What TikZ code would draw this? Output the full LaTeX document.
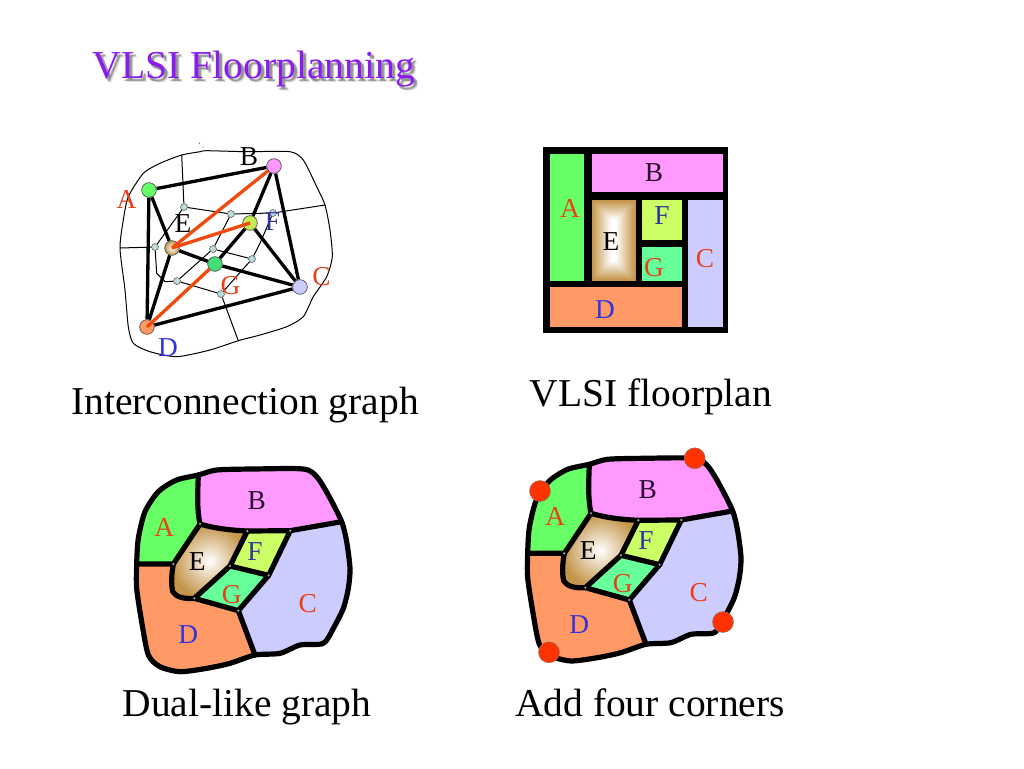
\documentclass[tikz,border=0pt]{standalone}
\usepackage{fontspec}
\setmainfont{Liberation Serif}
\pgfdeclarelayer{bgpage}
\pgfdeclarelayer{edges}
\pgfsetlayers{bgpage,edges,main}
\definecolor{cA}{HTML}{66FF66}
\definecolor{cB}{HTML}{FF99FF}
\definecolor{cC}{HTML}{CCCCFF}
\definecolor{cD}{HTML}{FF9966}
\definecolor{cE}{HTML}{C4954A}
\definecolor{cF}{HTML}{CCFF66}
\definecolor{cG}{HTML}{66FF99}
\definecolor{vG}{HTML}{44DD77}
\definecolor{tRed}{HTML}{E8401A}
\definecolor{tBlue}{HTML}{3333DD}
\definecolor{tNavy}{HTML}{333399}
\definecolor{tPlum}{HTML}{2A0A2A}
\definecolor{edgeRed}{HTML}{F04A10}
\definecolor{dualDot}{HTML}{BBDDDD}
\definecolor{titleCol}{HTML}{8A1CF0}
\definecolor{cornerCol}{HTML}{FF3300}
\tikzset{
  lab/.style={inner sep=0pt,font=\fontsize{20.5}{20.5}\selectfont},
  captxt/.style={inner sep=0pt,anchor=base,font=\fontsize{29.6}{30}\selectfont},
  ttl/.style={inner sep=0pt,anchor=base,font=\fontsize{29.7}{30}\selectfont},
  vert/.style={circle,draw=black!70,line width=.5pt,minimum size=11pt,inner sep=0pt},
  dualv/.style={circle,draw=black!70,fill=dualDot,line width=.4pt,minimum size=5.2pt,inner sep=0pt},
  thickedge/.style={line width=2.5pt,black},
  rededge/.style={line width=2.5pt,edgeRed},
  thinline/.style={line width=.75pt,black,line join=round},
  mapline/.style={line width=3.9pt,black,line join=round,line cap=round},
  cornerdot/.style={circle,fill=cornerCol,draw=black!50,line width=.3pt,minimum size=15.8pt,inner sep=0pt}
}
\def\outerp{plot[smooth cycle,tension=.45] coordinates {(235,60)(290,45)(400,42)(550,42)(590,65)(625,120)(665,200)(680,260)(690,340)(685,400)(670,460)(640,520)(610,565)(540,570)(480,595)(405,600)(330,625)(260,640)(180,650)(120,635)(85,600)(65,500)(50,400)(50,327)(55,250)(75,170)(115,110)(170,75)}}
\newcommand{\dualmap}[1]{%
  \begin{scope}
    \clip \outerp;
    \fill[cA] (235,60)--(240,207)--(160,327)--(50,327)--(0,327)--(0,0)--(235,0)--cycle;
    \fill[cB] (235,60)--(240,207)--(382,228)--(511,227)--(665,200)--(800,200)--(800,0)--(235,0)--cycle;
    \fill[cC] (665,200)--(511,227)--(446,361)--(355,467)--(405,600)--(405,800)--(800,800)--(800,200)--cycle;
    \fill[cD] (0,327)--(160,327)--(155,405)--(175,428)--(223,430)--(355,467)--(405,600)--(405,800)--(0,800)--cycle;
  \end{scope}
  \shade[inner color=white,outer color=cE] (240,207)--(382,228)--(330,333)--(223,430)--(175,428)--(155,405)--(160,327)--cycle;
  \fill[cF] (382,228)--(511,227)--(446,361)--(330,333)--cycle;
  \fill[cG] (330,333)--(446,361)--(355,467)--(223,430)--cycle;
  \draw[mapline] (235,60)..controls (232,130) and (232,170)..(240,207);
  \draw[mapline] (240,207)..controls (290,222) and (340,226)..(382,228)--(511,227)--(665,200);
  \draw[mapline] (240,207)--(160,327)--(50,327);
  \draw[mapline] (160,327)..controls (152,370) and (155,395)..(158,410)..controls (170,428) and (195,432)..(223,430)--(355,467)--(405,600);
  \draw[mapline] (382,228)--(330,333)--(223,430);
  \draw[mapline] (330,333)--(446,361);
  \draw[mapline] (511,227)--(446,361)--(355,467);
  \draw[mapline] \outerp;
  \foreach \p in {(240,207),(382,228),(511,227),(160,327),(330,333),(446,361),(223,430),(355,467)}
    \fill[white!70!black] \p circle (3.5);
  \node[lab,text=tRed] (#1A) at (133,217) {A};
  \node[lab,text=tPlum] (#1B) at (410,137) {B};
  \node[lab,text=tRed] (#1C) at (563,445) {C};
  \node[lab,text=tBlue] (#1D) at (205,540) {D};
  \node[lab,text=black] (#1E) at (232,320) {E};
  \node[lab,text=tNavy] (#1F) at (405,290) {F};
  \node[lab,text=tRed] (#1G) at (335,418) {G};
}
\begin{document}
\begin{tikzpicture}[x=0.75pt,y=-0.75pt]
\useasboundingbox (0,0) rectangle (1024,768);
\begin{pgfonlayer}{bgpage}
\fill[white] (0,0) rectangle (1024,768);
\end{pgfonlayer}

% title
\foreach \dx/\dy/\op in {4/4/.25,3/3/.45,2/3/.45,3/2/.35}
  \node[ttl,text=gray,opacity=\op] (tsh\dx\dy) at (254+\dx,78+\dy) {VLSI Floorplanning};
\node[ttl,text=titleCol] (title) at (254,78) {VLSI Floorplanning};

% interconnection graph: outer boundary and thin lines
\draw[thinline] plot[smooth cycle,tension=.4] coordinates {(181.7,155)(200,151.7)(206.7,150.7)(246.7,151.7)(290,151.7)(303.3,160)(316.7,186.7)(325,205)(330,230)(332.3,256.7)(326.7,276.7)(313.3,296.7)(303.3,316.7)(286.7,326.7)(260,335)(238.3,340.7)(210,350)(176.7,356.7)(150,351.7)(133.3,343.3)(128.3,326.7)(125,290)(120,248.3)(123.3,220)(128.3,196.7)(143.3,173.3)(160,163.3)};
\coordinate (tTop) at (181.7,155);
\coordinate (tRight) at (325,205);
\coordinate (tLeft) at (120,248);
\coordinate (tBottom) at (238.3,340.7);
\coordinate (tBend1) at (156.7,273.3);
\coordinate (tBend2) at (165,281.7);
\coordinate (tBend3) at (260,243.3);

\node[dualv] (d1) at (184,207) {};
\node[dualv] (d2) at (231,214) {};
\node[dualv] (d3) at (273,213) {};
\node[dualv] (d4) at (155,247) {};
\node[dualv] (d5) at (213,249) {};
\node[dualv] (d6) at (252,259) {};
\node[dualv] (d7) at (177,281) {};
\node[dualv] (d8) at (221,294) {};

\node[vert,fill=cA] (A) at (149,190) {};
\node[vert,fill=cB] (B) at (274,166) {};
\node[vert,fill=cC] (C) at (300,287) {};
\node[vert,fill=cD] (D) at (147,327) {};
\node[vert,inner color=white,outer color=cE] (E) at (172,248) {};
\node[vert,fill=cF!85!olive] (F) at (250,223) {};
\node[vert,fill=vG] (G) at (215,264) {};

\begin{pgfonlayer}{edges}
\draw[thinline] (tTop)--(d1) (d1)--(d2)--(d3)--(tRight);
\draw[thinline] (d1)--(d4)--(tLeft);
\draw[thinline] (d4)--(tBend1)--(tBend2)--(d7)--(d8)--(tBottom);
\draw[thinline] (d8)--(d6)--(tBend3)--(d3);
\draw[thinline] (d6)--(d5)--(d2);
\draw[thinline] (d5)--(d7);
\draw[thickedge] (A)--(B);
\draw[thickedge] (A)--(D);
\draw[thickedge] (A)--(E);
\draw[thickedge] (B)--(F);
\draw[thickedge] (B)--(C);
\draw[thickedge] (F)--(C);
\draw[thickedge] (F)--(G);
\draw[thickedge] (E)--(G);
\draw[thickedge] (G)--(C);
\draw[thickedge] (D)--(C);
\draw[thickedge] (D)--(E);
\end{pgfonlayer}
\draw[rededge] (E.center)--(B);
\draw[rededge] (E.center)--(F.center);
\draw[rededge] (D.center)--(G);

\node[lab,text=tRed] (lA) at (126.5,199.5) {A};
\node[lab,text=black] (lB) at (249,157) {B};
\node[lab,text=tRed] (lC) at (321.5,277) {C};
\node[lab,text=tBlue] (lD) at (168,347.5) {D};
\node[lab,text=black] (lE) at (183,223.5) {E};
\node[lab,text=tNavy] (lF) at (272.5,221.5) {F};
\node[lab,text=tRed] (lG) at (230.5,286) {G};
\fill[black] (199.5,143) circle (.5) (203,147) circle (.5);

\node[captxt] (c1) at (245,414) {Interconnection graph};

% floorplan
\fill[black] (543.3,147.3) rectangle (728.3,333.3);
\fill[cA] (549.7,154) rectangle (584.3,280.7);
\fill[cB] (591.7,154) rectangle (722.7,191.7);
\fill[cE] (591.7,200) rectangle (635.7,280.7);
\foreach \i in {1,...,14}{
  \pgfmathsetmacro{\mx}{\i*1.35}
  \pgfmathsetmacro{\mixv}{\i*7.14}
  \fill[white!\mixv!cE,rounded corners=2pt] (591.7+\mx,200+\mx) rectangle (635.7-\mx,280.7-\mx);
}
\fill[cF] (641.7,200) rectangle (681.7,240);
\fill[cG] (641.7,246.7) rectangle (682,280.7);
\fill[cC] (688,200) rectangle (722.7,326.7);
\fill[cD] (549.7,287) rectangle (681.7,326.7);
\node[lab,text=tRed] (fA) at (570,208) {A};
\node[lab,text=tPlum] (fB) at (654,173) {B};
\node[lab,text=tRed] (fC) at (705,259) {C};
\node[lab,text=tBlue] (fD) at (605,310) {D};
\node[lab,text=black] (fE) at (611,242) {E};
\node[lab,text=tNavy] (fF) at (662,216) {F};
\node[lab,text=tRed] (fG) at (654,268) {G};
\node[captxt] (c2) at (651,406) {VLSI floorplan};

% dual-like graph
\begin{scope}[shift={(120,455)},x=0.25pt,y=-0.25pt]
\dualmap{m}
\end{scope}
\node[captxt] (c3) at (247,716) {Dual-like graph};

% add four corners
\begin{scope}[shift={(511,444.3)},x=0.25pt,y=-0.25pt]
\dualmap{n}
\end{scope}
\node[cornerdot] (k1) at (540,491) {};
\node[cornerdot] (k2) at (694.7,458.3) {};
\node[cornerdot] (k3) at (723,622) {};
\node[cornerdot] (k4) at (549,652.3) {};
\node[captxt] (c4) at (650,716) {Add four corners};
\end{tikzpicture}
\end{document}
